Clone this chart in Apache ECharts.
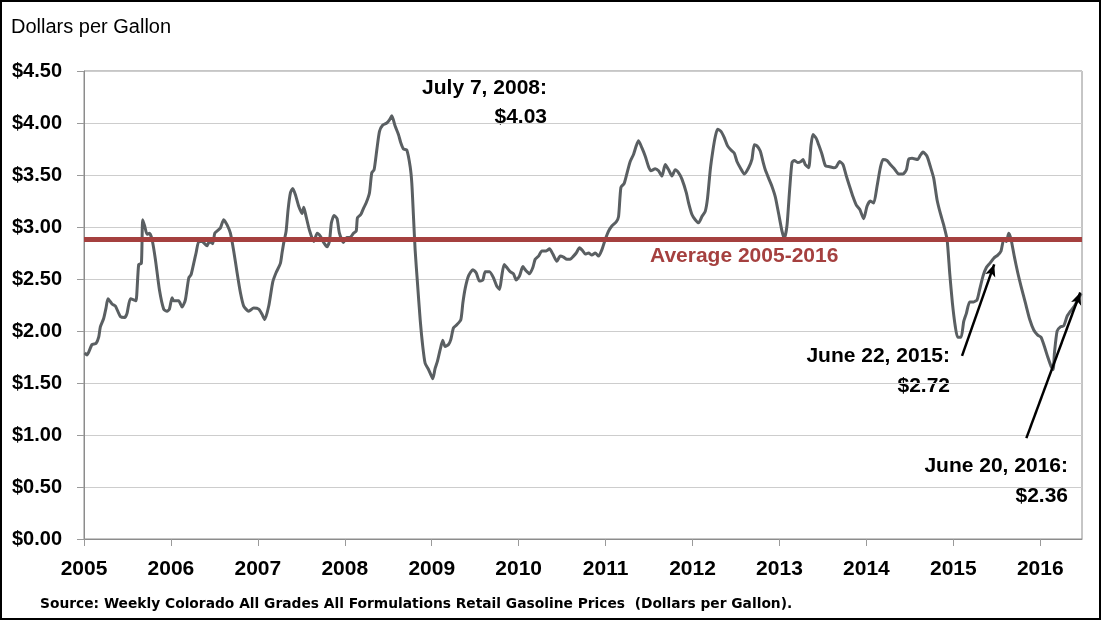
<!DOCTYPE html>
<html>
<head>
<meta charset="utf-8">
<script src="https://cdn.jsdelivr.net/npm/echarts@6/dist/echarts.min.js"></script>
<style>
  html, body { margin: 0; padding: 0; background: #fff; }
  #chart { width: 1102px; height: 621px; }
</style>
</head>
<body>
<div id="chart"></div>
<script>
// weekly Colorado retail gasoline price (decimal year, $/gal)
const dates = [
  2005.008, 2005.035, 2005.092, 2005.138, 2005.169, 2005.188, 2005.226, 2005.253, 2005.276, 2005.322,
  2005.361, 2005.418, 2005.468, 2005.495, 2005.533, 2005.572, 2005.598, 2005.629, 2005.660, 2005.675,
  2005.698, 2005.725, 2005.752, 2005.783, 2005.821, 2005.867, 2005.917, 2005.955, 2005.982, 2006.013,
  2006.032, 2006.089, 2006.128, 2006.166, 2006.205, 2006.231, 2006.262, 2006.289, 2006.320, 2006.358,
  2006.415, 2006.442, 2006.481, 2006.504, 2006.543, 2006.569, 2006.607, 2006.646, 2006.684, 2006.722,
  2006.761, 2006.799, 2006.837, 2006.895, 2006.952, 2007.010, 2007.048, 2007.079, 2007.125, 2007.171,
  2007.209, 2007.259, 2007.278, 2007.298, 2007.325, 2007.348, 2007.375, 2007.401, 2007.432, 2007.470,
  2007.509, 2007.528, 2007.555, 2007.593, 2007.643, 2007.682, 2007.720, 2007.758, 2007.796, 2007.823,
  2007.846, 2007.877, 2007.911, 2007.938, 2007.984, 2008.023, 2008.062, 2008.100, 2008.131, 2008.146,
  2008.184, 2008.215, 2008.245, 2008.284, 2008.310, 2008.337, 2008.368, 2008.399, 2008.437, 2008.483,
  2008.514, 2008.541, 2008.579, 2008.617, 2008.644, 2008.675, 2008.713, 2008.752, 2008.771, 2008.790,
  2008.809, 2008.836, 2008.867, 2008.897, 2008.924, 2008.963, 2008.989, 2009.012, 2009.039, 2009.066,
  2009.097, 2009.127, 2009.154, 2009.193, 2009.220, 2009.250, 2009.289, 2009.335, 2009.358, 2009.385,
  2009.423, 2009.473, 2009.511, 2009.549, 2009.588, 2009.615, 2009.665, 2009.711, 2009.749, 2009.780,
  2009.806, 2009.833, 2009.864, 2009.902, 2009.941, 2009.971, 2010.010, 2010.048, 2010.075, 2010.125,
  2010.163, 2010.190, 2010.229, 2010.267, 2010.317, 2010.355, 2010.393, 2010.439, 2010.478, 2010.516,
  2010.554, 2010.593, 2010.631, 2010.662, 2010.700, 2010.738, 2010.766, 2010.804, 2010.842, 2010.881,
  2010.919, 2010.957, 2010.996, 2011.034, 2011.072, 2011.122, 2011.149, 2011.176, 2011.214, 2011.253,
  2011.283, 2011.322, 2011.352, 2011.379, 2011.418, 2011.456, 2011.494, 2011.521, 2011.571, 2011.609,
  2011.648, 2011.686, 2011.725, 2011.763, 2011.801, 2011.840, 2011.878, 2011.928, 2011.955, 2011.993,
  2012.031, 2012.070, 2012.108, 2012.146, 2012.173, 2012.204, 2012.235, 2012.262, 2012.288, 2012.327,
  2012.365, 2012.403, 2012.442, 2012.480, 2012.511, 2012.549, 2012.595, 2012.645, 2012.683, 2012.710,
  2012.741, 2012.779, 2012.810, 2012.837, 2012.875, 2012.914, 2012.952, 2012.990, 2013.029, 2013.056,
  2013.086, 2013.117, 2013.144, 2013.171, 2013.209, 2013.247, 2013.271, 2013.297, 2013.336, 2013.362,
  2013.385, 2013.424, 2013.451, 2013.489, 2013.528, 2013.577, 2013.623, 2013.654, 2013.692, 2013.731,
  2013.769, 2013.807, 2013.846, 2013.884, 2013.923, 2013.969, 2014.007, 2014.045, 2014.084, 2014.122,
  2014.160, 2014.191, 2014.237, 2014.275, 2014.321, 2014.371, 2014.421, 2014.460, 2014.486, 2014.525,
  2014.590, 2014.621, 2014.651, 2014.697, 2014.736, 2014.774, 2014.813, 2014.851, 2014.889, 2014.928,
  2014.958, 2014.989, 2015.023, 2015.050, 2015.089, 2015.119, 2015.150, 2015.188, 2015.234, 2015.273,
  2015.303, 2015.342, 2015.380, 2015.419, 2015.465, 2015.511, 2015.549, 2015.580, 2015.610, 2015.637,
  2015.664, 2015.703, 2015.741, 2015.779, 2015.829, 2015.879, 2015.925, 2015.971, 2016.009, 2016.048,
  2016.086, 2016.124, 2016.148, 2016.163, 2016.194, 2016.232, 2016.270, 2016.308, 2016.347, 2016.393,
  2016.431, 2016.470
];
const prices = [
  1.79, 1.77, 1.87, 1.88, 1.94, 2.04, 2.12, 2.22, 2.31, 2.26,
  2.24, 2.14, 2.13, 2.17, 2.31, 2.30, 2.29, 2.64, 2.65, 3.07,
  3.01, 2.93, 2.94, 2.88, 2.69, 2.40, 2.21, 2.19, 2.21, 2.32,
  2.29, 2.29, 2.23, 2.30, 2.51, 2.54, 2.65, 2.75, 2.86, 2.86,
  2.82, 2.86, 2.84, 2.94, 2.97, 2.99, 3.07, 3.02, 2.94, 2.77,
  2.56, 2.37, 2.24, 2.19, 2.22, 2.21, 2.16, 2.11, 2.24, 2.47,
  2.56, 2.65, 2.75, 2.85, 2.96, 3.17, 3.33, 3.37, 3.31, 3.20,
  3.13, 3.19, 3.10, 2.97, 2.86, 2.94, 2.91, 2.85, 2.81, 2.86,
  3.04, 3.11, 3.08, 2.94, 2.85, 2.90, 2.90, 2.94, 2.96, 3.09,
  3.12, 3.18, 3.23, 3.33, 3.52, 3.55, 3.74, 3.92, 3.98, 4.00,
  4.03, 4.07, 3.97, 3.89, 3.81, 3.75, 3.74, 3.58, 3.42, 3.10,
  2.78, 2.46, 2.11, 1.85, 1.69, 1.63, 1.58, 1.54, 1.64, 1.71,
  1.82, 1.91, 1.85, 1.87, 1.92, 2.03, 2.06, 2.11, 2.27, 2.41,
  2.53, 2.59, 2.56, 2.48, 2.49, 2.57, 2.57, 2.51, 2.43, 2.40,
  2.53, 2.64, 2.61, 2.57, 2.55, 2.49, 2.53, 2.62, 2.59, 2.55,
  2.61, 2.69, 2.72, 2.77, 2.77, 2.79, 2.74, 2.67, 2.72, 2.71,
  2.69, 2.69, 2.72, 2.75, 2.80, 2.77, 2.74, 2.75, 2.73, 2.75,
  2.72, 2.78, 2.88, 2.96, 3.01, 3.05, 3.10, 3.38, 3.42, 3.54,
  3.63, 3.70, 3.78, 3.83, 3.76, 3.68, 3.58, 3.54, 3.56, 3.54,
  3.49, 3.60, 3.55, 3.49, 3.55, 3.52, 3.46, 3.33, 3.23, 3.12,
  3.07, 3.04, 3.10, 3.15, 3.28, 3.55, 3.74, 3.87, 3.94, 3.92,
  3.86, 3.78, 3.74, 3.71, 3.63, 3.57, 3.51, 3.57, 3.65, 3.79,
  3.78, 3.73, 3.63, 3.55, 3.47, 3.39, 3.29, 3.13, 2.96, 2.89,
  3.01, 3.36, 3.62, 3.64, 3.62, 3.63, 3.65, 3.60, 3.57, 3.78,
  3.89, 3.85, 3.79, 3.70, 3.59, 3.58, 3.57, 3.58, 3.63, 3.60,
  3.49, 3.39, 3.29, 3.21, 3.17, 3.08, 3.20, 3.25, 3.23, 3.39,
  3.57, 3.65, 3.64, 3.60, 3.56, 3.51, 3.51, 3.55, 3.65, 3.66,
  3.65, 3.69, 3.72, 3.68, 3.58, 3.47, 3.26, 3.13, 3.02, 2.88,
  2.56, 2.27, 2.04, 1.94, 1.94, 2.09, 2.17, 2.28, 2.28, 2.30,
  2.40, 2.53, 2.61, 2.65, 2.70, 2.73, 2.77, 2.88, 2.86, 2.94,
  2.88, 2.71, 2.56, 2.43, 2.27, 2.11, 2.01, 1.96, 1.94, 1.85,
  1.75, 1.66, 1.63, 1.79, 2.00, 2.04, 2.05, 2.14, 2.19, 2.24,
  2.30, 2.36
];
const yearTicks = [2005, 2006, 2007, 2008, 2009, 2010, 2011, 2012, 2013, 2014, 2015, 2016];
const average = 2.88;
// arrow tails/heads in data units [year, price]
const arrow2015 = [[2015.10, 1.76], [2015.47, 2.64]];
const arrow2016 = [[2015.84, 0.97], [2016.46, 2.37]];

const FONT = "'Liberation Sans', Arial, sans-serif";
const RED = '#a5403f';

let chart = echarts.init(document.getElementById('chart'));

let lineData = [];
for (let i = 0; i < dates.length; i++) {
    lineData.push([dates[i], prices[i]]);
}

function arrowLine(a) {
    return [
        {coord: a[0], symbol: 'none', lineStyle: {color: '#000', width: 2.5, type: 'solid'}},
        {coord: a[1], symbol: 'arrow', symbolSize: [8, 12], lineStyle: {color: '#000', width: 2.5, type: 'solid'}}
    ];
}

chart.setOption({
    animation: false,
    grid: {left: 84, right: 20, top: 71, bottom: 82, show: true, borderColor: '#8c8c8c', borderWidth: 1},
    xAxis: {
        type: 'value',
        min: 2005,
        max: 2016.48,
        interval: 1,
        axisLine: {lineStyle: {color: '#8c8c8c', width: 1}},
        axisTick: {show: true, length: 7, lineStyle: {color: '#9a9a9a'}, customValues: yearTicks},
        splitLine: {show: false},
        axisLabel: {
            customValues: yearTicks,
            color: '#000', fontSize: 21, fontWeight: 'bold', fontFamily: FONT, margin: 20,
            formatter: v => String(v)
        }
    },
    yAxis: {
        type: 'value',
        min: 0,
        max: 4.5,
        interval: 0.5,
        axisLine: {show: true, lineStyle: {color: '#8c8c8c', width: 1}},
        axisTick: {show: true, length: 7, lineStyle: {color: '#9a9a9a'}},
        splitLine: {lineStyle: {color: '#cdcdcd', width: 1}},
        axisLabel: {
            color: '#000', fontSize: 20, fontWeight: 'bold', fontFamily: FONT, margin: 22,
            formatter: v => '$' + v.toFixed(2)
        }
    },
    series: [{
        name: 'Price',
        type: 'line',
        data: lineData,
        showSymbol: false,
        smooth: 0.2,
        lineStyle: {color: '#5a5f62', width: 3, join: 'round'},
        markLine: {
            silent: true,
            symbol: ['none', 'none'],
            label: {show: false},
            data: [
                {yAxis: average, lineStyle: {color: RED, width: 5, type: 'solid'}},
                arrowLine(arrow2015),
                arrowLine(arrow2016)
            ]
        }
    }],
    graphic: [
        {type: 'rect', shape: {x: 1, y: 1, width: 1099, height: 618}, style: {fill: 'none', stroke: '#000', lineWidth: 2}},
        {type: 'text', x: 11, y: 27, style: {text: 'Dollars per Gallon', font: '20px ' + FONT, fill: '#000', verticalAlign: 'middle'}},
        {type: 'text', x: 547, y: 88, style: {text: 'July 7, 2008:', font: 'bold 21px ' + FONT, fill: '#000', align: 'right', verticalAlign: 'middle'}},
        {type: 'text', x: 547, y: 117, style: {text: '$4.03', font: 'bold 21px ' + FONT, fill: '#000', align: 'right', verticalAlign: 'middle'}},
        {type: 'text', x: 650, y: 256, style: {text: 'Average 2005-2016', font: 'bold 21px ' + FONT, fill: RED, verticalAlign: 'middle'}},
        {type: 'text', x: 950, y: 356, style: {text: 'June 22, 2015:', font: 'bold 21px ' + FONT, fill: '#000', align: 'right', verticalAlign: 'middle'}},
        {type: 'text', x: 950, y: 386, style: {text: '$2.72', font: 'bold 21px ' + FONT, fill: '#000', align: 'right', verticalAlign: 'middle'}},
        {type: 'text', x: 1068, y: 466, style: {text: 'June 20, 2016:', font: 'bold 21px ' + FONT, fill: '#000', align: 'right', verticalAlign: 'middle'}},
        {type: 'text', x: 1068, y: 496, style: {text: '$2.36', font: 'bold 21px ' + FONT, fill: '#000', align: 'right', verticalAlign: 'middle'}},
        {type: 'text', x: 40, y: 604, style: {text: 'Source: Weekly Colorado All Grades All Formulations Retail Gasoline Prices  (Dollars per Gallon).', font: "bold 13.8px 'DejaVu Sans', sans-serif", fill: '#000', verticalAlign: 'middle'}}
    ]
});
</script>
</body>
</html>
